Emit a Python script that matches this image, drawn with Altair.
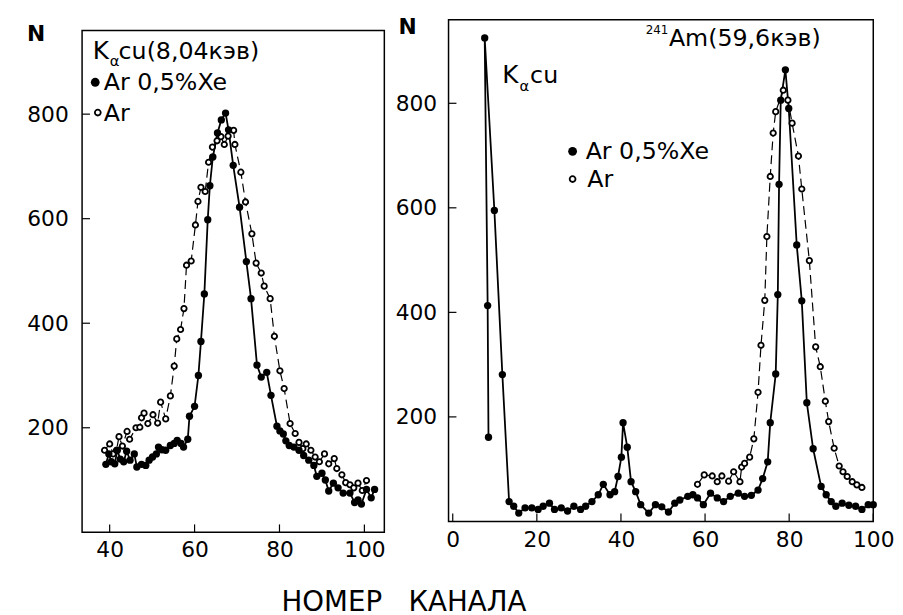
import altair as alt
import pandas as pd

FONT = "DejaVu Sans"

# ---------------- data ----------------
# Left panel: K-alpha Cu (8,04 keV)
L_XE_X = [39.1, 39.8, 40.4, 41.2, 41.8, 42.5, 43.3, 44.0, 44.8, 45.8,
          46.4, 47.5, 48.5, 49.3, 50.1, 51.0, 51.5, 52.3, 53.2, 54.3,
          55.2, 55.9, 56.8, 57.4, 58.4, 58.8, 60.0, 60.9, 61.5, 62.3,
          63.1, 63.6, 64.3, 65.4, 66.3, 67.3, 68.0, 69.1, 70.6, 72.2,
          73.3, 74.7, 75.7, 77.0, 78.0, 79.4, 80.1, 80.9, 81.5, 82.3,
          83.4, 84.6, 85.7, 86.9, 88.1, 88.8, 90.0, 90.8, 91.6, 92.7,
          93.8, 95.0, 96.6, 97.7, 98.5, 99.3, 100.5, 101.6, 102.4]
L_XE_Y = [130, 150, 135, 131, 157, 140, 135, 155, 138, 150,
          125, 130, 128, 138, 144, 150, 163, 158, 157, 166,
          170, 176, 170, 163, 178, 222, 241, 300, 365, 456,
          598, 663, 718, 764, 789, 802, 770, 702, 622, 518,
          447, 320, 297, 306, 262, 203, 194, 188, 175, 166,
          163, 157, 147, 138, 128, 107, 113, 100, 79, 94,
          85, 75, 75, 57, 62, 54, 82, 66, 82]

L_AR_X = [38.8, 40.0, 40.8, 41.6, 42.2, 43.0, 44.1, 44.7, 46.2, 47.1,
          47.5, 48.1, 49.0, 50.2, 51.3, 52.0, 53.2, 54.3, 55.2, 55.8,
          56.7, 57.5, 58.1, 59.2, 60.2, 60.8, 61.5, 62.5, 63.3, 64.2,
          65.3, 66.2, 67.0, 67.9, 69.2, 69.5, 70.9, 72.0, 73.5, 74.5,
          75.7, 76.4, 77.8, 78.8, 80.1, 81.1, 82.5, 83.7, 84.6, 85.5,
          86.3, 87.4, 88.4, 89.4, 90.6, 91.6, 92.9, 93.5, 94.7, 95.6,
          96.6, 97.5, 98.5, 99.5, 100.5]
L_AR_Y = [157, 169, 150, 157, 183, 165, 193, 178, 200, 201,
          219, 228, 208, 225, 209, 249, 217, 261, 318, 370,
          388, 428, 511, 519, 588, 633, 660, 652, 708, 737,
          749, 757, 742, 758, 769, 742, 689, 632, 571, 515,
          496, 471, 447, 375, 309, 275, 208, 189, 172, 160,
          169, 157, 144, 135, 150, 131, 141, 122, 110, 95,
          91, 85, 94, 80, 99]

# Right panel: 241Am (59,6 keV)
R_XE_X = [8.5, 8.3, 7.6, 9.9, 11.8, 13.4, 14.5, 15.7, 17.2, 18.8,
          20.3, 21.5, 23.0, 24.2, 25.8, 27.3, 28.8, 30.4, 31.6, 33.1,
          34.6, 35.8, 37.4, 38.5, 39.3, 40.1, 40.5, 41.5, 42.4, 43.5,
          44.7, 46.6, 48.2, 49.7, 51.3, 52.8, 54.0, 55.9, 57.1, 58.2,
          59.6, 61.3, 62.9, 64.4, 66.0, 67.9, 69.4, 71.0, 72.6, 73.7,
          74.9, 75.5, 76.8, 77.3, 77.6, 78.0, 79.1, 79.9, 81.8, 83.0,
          84.2, 85.7, 87.6, 88.8, 90.0, 91.1, 92.6, 94.2, 95.8, 97.3,
          98.8, 100.0]
R_XE_Y = [161, 413, 925, 595, 281, 38, 29, 16, 26, 26,
          23, 29, 35, 23, 26, 20, 29, 23, 29, 38,
          51, 71, 51, 57, 86, 123, 189, 142, 76, 57,
          32, 16, 32, 28, 18, 35, 41, 48, 51, 45,
          32, 54, 45, 38, 48, 54, 48, 50, 60, 82,
          114, 189, 282, 434, 645, 806, 864, 790, 529, 422,
          227, 139, 67, 51, 38, 29, 35, 31, 29, 23,
          32, 32]

R_AR_X = [58.2, 59.8, 61.7, 62.9, 64.0, 65.6, 66.8, 68.3, 68.7, 69.4,
          70.6, 71.6, 72.6, 73.3, 74.2, 74.7, 75.5, 76.2, 76.8, 78.6,
          79.7, 80.7, 82.2, 83.0, 84.8, 86.3, 87.4, 88.6, 89.4, 90.7,
          91.9, 92.8, 93.8, 95.0, 96.1, 97.3]
R_AR_Y = [71, 89, 87, 76, 87, 77, 95, 76, 104, 111,
          123, 158, 247, 337, 423, 545, 660, 743, 784, 825,
          806, 762, 699, 636, 499, 334, 296, 230, 191, 140,
          106, 95, 86, 76, 70, 65]

Y_TICKS = [200, 400, 600, 800]
L_X_TICKS = [40, 60, 80, 100]
R_X_TICKS = [0, 20, 40, 60, 80, 100]

# annotation texts
L_TEXT = ["K", "α", "cu(8,04кэв)", "Ar 0,5%Xe", "Ar"]
L_TEXT_X = [36.0, 40.0, 42.1, 38.6, 38.6]
L_TEXT_Y = [906, 892, 906, 846, 786]
L_TEXT_SIZE = [25, 15, 24, 24, 24]
L_SYM_X = [36.6, 37.2]
L_SYM_Y = [861, 803]

R_TEXT = ["241", "Am(59,6кэв)", "K", "α", "cu", "Ar 0,5%Xe", "Ar"]
R_TEXT_X = [45.9, 51.4, 11.8, 15.9, 18.4, 31.6, 32.0]
R_TEXT_Y = [932, 910, 838, 824, 838, 693, 640]
R_TEXT_SIZE = [12, 24, 25, 15, 24, 24, 24]
R_SYM_X = [28.5, 28.5]
R_SYM_Y = [708, 655]

H = 508
LEFT_W = 306
RIGHT_W = 430


def series_df(xs, ys):
    return pd.DataFrame({"x": xs, "y": ys, "i": list(range(len(xs)))})


def panel(xe_x, xe_y, ar_x, ar_y, xdom, ydom, xticks, width,
          n_x, n_y, ypad, texts, tx, ty, tsize, sx, sy):
    xs = alt.Scale(domain=xdom, nice=False, zero=False)
    ys = alt.Scale(domain=ydom, nice=False, zero=False)
    x_axis = alt.Axis(values=xticks, title=None, labelPadding=8,
                      labelFlush=False,
                      labelFontSize=22, labelFont=FONT, labelColor="black",
                      domain=False, ticks=False, grid=False)
    y_axis = alt.Axis(values=Y_TICKS, title="N", titleAngle=0,
                      titleX=n_x, titleY=n_y, titleAlign="center",
                      titleBaseline="alphabetic", titleFont=FONT,
                      titleFontSize=22, titleFontWeight="bold",
                      titleColor="black", labelPadding=ypad,
                      labelFlush=False,
                      labelFontSize=22, labelFont=FONT, labelColor="black",
                      domain=False, ticks=False, grid=False)

    def X(f):
        return alt.X(f, scale=xs, axis=x_axis)

    def Y(f):
        return alt.Y(f, scale=ys, axis=y_axis)

    xe = series_df(xe_x, xe_y)
    ar = series_df(ar_x, ar_y)

    line_ar = alt.Chart(ar).mark_line(color="black", strokeWidth=1.2,
                                      strokeDash=[9, 5]).encode(
        x=X("x:Q"), y=Y("y:Q"), order="i:Q")
    line_xe = alt.Chart(xe).mark_line(color="black", strokeWidth=1.8).encode(
        x=X("x:Q"), y=Y("y:Q"), order="i:Q")
    pts_ar = alt.Chart(ar).mark_point(shape="circle", filled=True,
                                      fill="white", stroke="black",
                                      strokeWidth=1.8, size=30,
                                      opacity=1).encode(x=X("x:Q"), y=Y("y:Q"))
    pts_xe = alt.Chart(xe).mark_circle(color="black", size=55,
                                       opacity=1).encode(x=X("x:Q"), y=Y("y:Q"))

    yt = alt.Chart(pd.DataFrame({"v": Y_TICKS})).mark_rule(
        color="black", strokeWidth=1.2).encode(
        y=Y("v:Q"), x=alt.value(0), x2=alt.value(8))
    xt = alt.Chart(pd.DataFrame({"v": xticks})).mark_rule(
        color="black", strokeWidth=1.2).encode(
        x=X("v:Q"), y=alt.value(H), y2=alt.value(H - 8))

    tdf = pd.DataFrame({"x": tx, "y": ty, "t": texts, "s": tsize})
    txt = alt.Chart(tdf).mark_text(align="left", baseline="alphabetic",
                                   font=FONT, color="black").encode(
        x=X("x:Q"), y=Y("y:Q"), text="t:N",
        size=alt.Size("s:Q", scale=None, legend=None))
    sym_xe = alt.Chart(pd.DataFrame({"x": [sx[0]], "y": [sy[0]]})).mark_circle(
        color="black", size=80, opacity=1).encode(x=X("x:Q"), y=Y("y:Q"))
    sym_ar = alt.Chart(pd.DataFrame({"x": [sx[1]], "y": [sy[1]]})).mark_point(
        shape="circle", filled=True, fill="white", stroke="black",
        strokeWidth=1.8, size=35, opacity=1).encode(x=X("x:Q"), y=Y("y:Q"))

    return alt.layer(line_ar, line_xe, pts_ar, pts_xe, yt, xt, txt,
                     sym_xe, sym_ar).properties(width=width, height=H)


left = panel(L_XE_X, L_XE_Y, L_AR_X, L_AR_Y, [33.5, 104.7], [0, 960],
             L_X_TICKS, LEFT_W, -47, 10, 14,
             L_TEXT, L_TEXT_X, L_TEXT_Y, L_TEXT_SIZE, L_SYM_X, L_SYM_Y)
right = panel(R_XE_X, R_XE_Y, R_AR_X, R_AR_Y, [-1, 100], [0, 960],
              R_X_TICKS, RIGHT_W, -42, 14, 12,
              R_TEXT, R_TEXT_X, R_TEXT_Y, R_TEXT_SIZE, R_SYM_X, R_SYM_Y)

# empty spacer that lowers the left panel (the scanned panels are offset)
spacer = alt.Chart(pd.DataFrame({"t": [""]})).mark_text(
    fontSize=1, baseline="bottom").encode(
    text="t:N").properties(width=LEFT_W, height=1,
                           view=alt.ViewBackground(stroke="transparent"))

left_col = alt.vconcat(spacer, left, spacing=0)

chart = alt.hconcat(left_col, right, spacing=8).properties(
    title=alt.TitleParams("НОМЕР\u00a0\u00a0\u00a0КАНАЛА", orient="bottom",
                          anchor="middle", fontSize=28, font=FONT,
                          fontWeight="normal", color="black", offset=28,
                          dx=-57),
    padding={"left": 18, "top": 3, "right": 0, "bottom": 0},
    background="white",
).configure_view(stroke="black", strokeWidth=1.5)

chart.save("out.html", embed_options={"renderer": "svg", "actions": False})
